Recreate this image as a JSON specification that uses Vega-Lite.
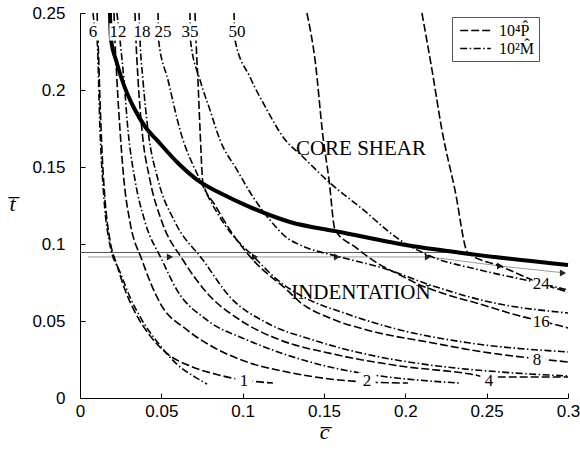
{
  "$schema": "https://vega.github.io/schema/vega-lite/v6.json",
  "width": 488,
  "height": 385,
  "autosize": {"type": "none"},
  "padding": {"left": 80, "top": 13, "right": 12, "bottom": 56},
  "background": "white",
  "config": {"view": {"stroke": null}},
  "datasets": {
    "paths": [
      {"id": "A", "c": 0.0, "t": 0.0945},
      {"id": "A", "c": 0.2348, "t": 0.0945},
      {"id": "B", "c": 0.0049, "t": 0.0916},
      {"id": "B", "c": 0.2152, "t": 0.0916},
      {"id": "B", "c": 0.2582, "t": 0.0857},
      {"id": "B", "c": 0.2982, "t": 0.0812}
    ],
    "arrows": [
      {"c": 0.0553, "t": 0.0916},
      {"c": 0.1076, "t": 0.0916},
      {"c": 0.1580, "t": 0.0916},
      {"c": 0.2139, "t": 0.0916},
      {"c": 0.2582, "t": 0.0857},
      {"c": 0.2969, "t": 0.0812}
    ],
    "curves": [
      {"id": "P1", "k": "P", "c": 0.0105, "t": 0.25},
      {"id": "P1", "k": "P", "c": 0.0111, "t": 0.2325},
      {"id": "P1", "k": "P", "c": 0.0123, "t": 0.1935},
      {"id": "P1", "k": "P", "c": 0.0135, "t": 0.1610},
      {"id": "P1", "k": "P", "c": 0.0154, "t": 0.1286},
      {"id": "P1", "k": "P", "c": 0.0184, "t": 0.1026},
      {"id": "P1", "k": "P", "c": 0.0227, "t": 0.0864},
      {"id": "P1", "k": "P", "c": 0.0277, "t": 0.0701},
      {"id": "P1", "k": "P", "c": 0.0338, "t": 0.0558},
      {"id": "P1", "k": "P", "c": 0.0418, "t": 0.0422},
      {"id": "P1", "k": "P", "c": 0.0523, "t": 0.0299},
      {"id": "P1", "k": "P", "c": 0.0676, "t": 0.0208},
      {"id": "P1", "k": "P", "c": 0.0830, "t": 0.0156},
      {"id": "P1", "k": "P", "c": 0.1002, "t": 0.0117},
      {"id": "P1", "k": "P", "c": 0.1186, "t": 0.0097},

      {"id": "M6", "k": "M", "c": 0.0080, "t": 0.25},
      {"id": "M6", "k": "M", "c": 0.0092, "t": 0.239},
      {"id": "M6", "k": "M", "c": 0.0105, "t": 0.2325},
      {"id": "M6", "k": "M", "c": 0.0123, "t": 0.1740},
      {"id": "M6", "k": "M", "c": 0.0148, "t": 0.1286},
      {"id": "M6", "k": "M", "c": 0.0184, "t": 0.0994},
      {"id": "M6", "k": "M", "c": 0.0246, "t": 0.0818},
      {"id": "M6", "k": "M", "c": 0.0307, "t": 0.0656},
      {"id": "M6", "k": "M", "c": 0.0381, "t": 0.0506},
      {"id": "M6", "k": "M", "c": 0.0480, "t": 0.0357},
      {"id": "M6", "k": "M", "c": 0.0602, "t": 0.0214},
      {"id": "M6", "k": "M", "c": 0.0707, "t": 0.0136},
      {"id": "M6", "k": "M", "c": 0.0781, "t": 0.0091},

      {"id": "P2", "k": "P", "c": 0.0209, "t": 0.25},
      {"id": "P2", "k": "P", "c": 0.0215, "t": 0.2325},
      {"id": "P2", "k": "P", "c": 0.0227, "t": 0.2065},
      {"id": "P2", "k": "P", "c": 0.0246, "t": 0.1740},
      {"id": "P2", "k": "P", "c": 0.0270, "t": 0.1416},
      {"id": "P2", "k": "P", "c": 0.0307, "t": 0.1143},
      {"id": "P2", "k": "P", "c": 0.0381, "t": 0.0896},
      {"id": "P2", "k": "P", "c": 0.0492, "t": 0.0617},
      {"id": "P2", "k": "P", "c": 0.0658, "t": 0.0442},
      {"id": "P2", "k": "P", "c": 0.0818, "t": 0.0331},
      {"id": "P2", "k": "P", "c": 0.1027, "t": 0.0234},
      {"id": "P2", "k": "P", "c": 0.1273, "t": 0.0169},
      {"id": "P2", "k": "P", "c": 0.1537, "t": 0.0123},
      {"id": "P2", "k": "P", "c": 0.1764, "t": 0.0104},
      {"id": "P2", "k": "P", "c": 0.2016, "t": 0.0097},

      {"id": "M12", "k": "M", "c": 0.0227, "t": 0.25},
      {"id": "M12", "k": "M", "c": 0.0246, "t": 0.2325},
      {"id": "M12", "k": "M", "c": 0.0270, "t": 0.2065},
      {"id": "M12", "k": "M", "c": 0.0295, "t": 0.1740},
      {"id": "M12", "k": "M", "c": 0.0338, "t": 0.1416},
      {"id": "M12", "k": "M", "c": 0.0400, "t": 0.1143},
      {"id": "M12", "k": "M", "c": 0.0504, "t": 0.0896},
      {"id": "M12", "k": "M", "c": 0.0596, "t": 0.0701},
      {"id": "M12", "k": "M", "c": 0.0781, "t": 0.0506},
      {"id": "M12", "k": "M", "c": 0.1027, "t": 0.0377},
      {"id": "M12", "k": "M", "c": 0.1273, "t": 0.0279},
      {"id": "M12", "k": "M", "c": 0.1537, "t": 0.0201},
      {"id": "M12", "k": "M", "c": 0.1844, "t": 0.0143},
      {"id": "M12", "k": "M", "c": 0.2152, "t": 0.0110},
      {"id": "M12", "k": "M", "c": 0.2336, "t": 0.0097},

      {"id": "P4", "k": "P", "c": 0.0338, "t": 0.25},
      {"id": "P4", "k": "P", "c": 0.0344, "t": 0.2325},
      {"id": "P4", "k": "P", "c": 0.0357, "t": 0.2065},
      {"id": "P4", "k": "P", "c": 0.0381, "t": 0.1740},
      {"id": "P4", "k": "P", "c": 0.0430, "t": 0.1416},
      {"id": "P4", "k": "P", "c": 0.0504, "t": 0.1143},
      {"id": "P4", "k": "P", "c": 0.0633, "t": 0.0896},
      {"id": "P4", "k": "P", "c": 0.0781, "t": 0.0682},
      {"id": "P4", "k": "P", "c": 0.0984, "t": 0.0506},
      {"id": "P4", "k": "P", "c": 0.1230, "t": 0.0377},
      {"id": "P4", "k": "P", "c": 0.1555, "t": 0.0286},
      {"id": "P4", "k": "P", "c": 0.1967, "t": 0.0208},
      {"id": "P4", "k": "P", "c": 0.2398, "t": 0.0156},
      {"id": "P4", "k": "P", "c": 0.2508, "t": 0.0136},
      {"id": "P4", "k": "P", "c": 0.3, "t": 0.0136},

      {"id": "M18", "k": "M", "c": 0.0363, "t": 0.25},
      {"id": "M18", "k": "M", "c": 0.0369, "t": 0.2325},
      {"id": "M18", "k": "M", "c": 0.0387, "t": 0.2065},
      {"id": "M18", "k": "M", "c": 0.0418, "t": 0.1740},
      {"id": "M18", "k": "M", "c": 0.0480, "t": 0.1416},
      {"id": "M18", "k": "M", "c": 0.0584, "t": 0.1143},
      {"id": "M18", "k": "M", "c": 0.0756, "t": 0.0896},
      {"id": "M18", "k": "M", "c": 0.0922, "t": 0.0656},
      {"id": "M18", "k": "M", "c": 0.1150, "t": 0.0487},
      {"id": "M18", "k": "M", "c": 0.1432, "t": 0.0377},
      {"id": "M18", "k": "M", "c": 0.1783, "t": 0.0279},
      {"id": "M18", "k": "M", "c": 0.2152, "t": 0.0214},
      {"id": "M18", "k": "M", "c": 0.2582, "t": 0.0169},
      {"id": "M18", "k": "M", "c": 0.3, "t": 0.0143},

      {"id": "M25", "k": "M", "c": 0.0480, "t": 0.25},
      {"id": "M25", "k": "M", "c": 0.0483, "t": 0.2325},
      {"id": "M25", "k": "M", "c": 0.0541, "t": 0.2065},
      {"id": "M25", "k": "M", "c": 0.0615, "t": 0.1740},
      {"id": "M25", "k": "M", "c": 0.0738, "t": 0.1416},
      {"id": "M25", "k": "M", "c": 0.0891, "t": 0.1123},
      {"id": "M25", "k": "M", "c": 0.1076, "t": 0.0909},
      {"id": "M25", "k": "M", "c": 0.1230, "t": 0.0753},
      {"id": "M25", "k": "M", "c": 0.1352, "t": 0.0669},
      {"id": "M25", "k": "M", "c": 0.1660, "t": 0.0539},
      {"id": "M25", "k": "M", "c": 0.1967, "t": 0.0442},
      {"id": "M25", "k": "M", "c": 0.2398, "t": 0.0357},
      {"id": "M25", "k": "M", "c": 0.3, "t": 0.0299},

      {"id": "P8", "k": "P", "c": 0.0707, "t": 0.25},
      {"id": "P8", "k": "P", "c": 0.0713, "t": 0.2325},
      {"id": "P8", "k": "P", "c": 0.0725, "t": 0.2065},
      {"id": "P8", "k": "P", "c": 0.0738, "t": 0.1740},
      {"id": "P8", "k": "P", "c": 0.0756, "t": 0.1396},
      {"id": "P8", "k": "P", "c": 0.0830, "t": 0.1253},
      {"id": "P8", "k": "P", "c": 0.0922, "t": 0.1091},
      {"id": "P8", "k": "P", "c": 0.1064, "t": 0.0896},
      {"id": "P8", "k": "P", "c": 0.1273, "t": 0.0701},
      {"id": "P8", "k": "P", "c": 0.1352, "t": 0.0623},
      {"id": "P8", "k": "P", "c": 0.1537, "t": 0.0519},
      {"id": "P8", "k": "P", "c": 0.1764, "t": 0.0442},
      {"id": "P8", "k": "P", "c": 0.2170, "t": 0.0357},
      {"id": "P8", "k": "P", "c": 0.2477, "t": 0.0299},
      {"id": "P8", "k": "P", "c": 0.2766, "t": 0.0260},
      {"id": "P8", "k": "P", "c": 0.3, "t": 0.0234},

      {"id": "M35", "k": "M", "c": 0.0676, "t": 0.25},
      {"id": "M35", "k": "M", "c": 0.0679, "t": 0.2325},
      {"id": "M35", "k": "M", "c": 0.0738, "t": 0.2065},
      {"id": "M35", "k": "M", "c": 0.0799, "t": 0.1870},
      {"id": "M35", "k": "M", "c": 0.0861, "t": 0.1675},
      {"id": "M35", "k": "M", "c": 0.0965, "t": 0.1481},
      {"id": "M35", "k": "M", "c": 0.1064, "t": 0.1305},
      {"id": "M35", "k": "M", "c": 0.1168, "t": 0.1156},
      {"id": "M35", "k": "M", "c": 0.1273, "t": 0.1039},
      {"id": "M35", "k": "M", "c": 0.1352, "t": 0.0994},
      {"id": "M35", "k": "M", "c": 0.1598, "t": 0.0916},
      {"id": "M35", "k": "M", "c": 0.1863, "t": 0.0844},
      {"id": "M35", "k": "M", "c": 0.2152, "t": 0.0734},
      {"id": "M35", "k": "M", "c": 0.2520, "t": 0.0623},
      {"id": "M35", "k": "M", "c": 0.3, "t": 0.0552},

      {"id": "M50", "k": "M", "c": 0.0947, "t": 0.25},
      {"id": "M50", "k": "M", "c": 0.0953, "t": 0.2325},
      {"id": "M50", "k": "M", "c": 0.1045, "t": 0.2084},
      {"id": "M50", "k": "M", "c": 0.1150, "t": 0.1870},
      {"id": "M50", "k": "M", "c": 0.1248, "t": 0.1695},
      {"id": "M50", "k": "M", "c": 0.1371, "t": 0.1565},
      {"id": "M50", "k": "M", "c": 0.1537, "t": 0.1396},
      {"id": "M50", "k": "M", "c": 0.1721, "t": 0.1240},
      {"id": "M50", "k": "M", "c": 0.1967, "t": 0.1026},
      {"id": "M50", "k": "M", "c": 0.2152, "t": 0.0922},
      {"id": "M50", "k": "M", "c": 0.2459, "t": 0.0831},
      {"id": "M50", "k": "M", "c": 0.2766, "t": 0.0760},
      {"id": "M50", "k": "M", "c": 0.3, "t": 0.0701},

      {"id": "P16", "k": "P", "c": 0.1395, "t": 0.25},
      {"id": "P16", "k": "P", "c": 0.1445, "t": 0.2195},
      {"id": "P16", "k": "P", "c": 0.1494, "t": 0.1695},
      {"id": "P16", "k": "P", "c": 0.1531, "t": 0.1416},
      {"id": "P16", "k": "P", "c": 0.1568, "t": 0.1091},
      {"id": "P16", "k": "P", "c": 0.1691, "t": 0.0981},
      {"id": "P16", "k": "P", "c": 0.1826, "t": 0.0877},
      {"id": "P16", "k": "P", "c": 0.1967, "t": 0.0799},
      {"id": "P16", "k": "P", "c": 0.2090, "t": 0.0734},
      {"id": "P16", "k": "P", "c": 0.2244, "t": 0.0675},
      {"id": "P16", "k": "P", "c": 0.2459, "t": 0.0610},
      {"id": "P16", "k": "P", "c": 0.2705, "t": 0.0532},
      {"id": "P16", "k": "P", "c": 0.2859, "t": 0.0494},
      {"id": "P16", "k": "P", "c": 0.3, "t": 0.0455},

      {"id": "P24", "k": "P", "c": 0.2102, "t": 0.25},
      {"id": "P24", "k": "P", "c": 0.2164, "t": 0.2130},
      {"id": "P24", "k": "P", "c": 0.2225, "t": 0.1740},
      {"id": "P24", "k": "P", "c": 0.2305, "t": 0.1351},
      {"id": "P24", "k": "P", "c": 0.2385, "t": 0.0942},
      {"id": "P24", "k": "P", "c": 0.2582, "t": 0.0857},
      {"id": "P24", "k": "P", "c": 0.2766, "t": 0.0773},
      {"id": "P24", "k": "P", "c": 0.2846, "t": 0.0740},
      {"id": "P24", "k": "P", "c": 0.3, "t": 0.0688}
    ],
    "boundary": [
      {"c": 0.0184, "t": 0.25},
      {"c": 0.0191, "t": 0.2325},
      {"c": 0.0221, "t": 0.2195},
      {"c": 0.0270, "t": 0.2032},
      {"c": 0.0332, "t": 0.1883},
      {"c": 0.0406, "t": 0.1753},
      {"c": 0.0473, "t": 0.1675},
      {"c": 0.0602, "t": 0.1526},
      {"c": 0.0738, "t": 0.1403},
      {"c": 0.0861, "t": 0.1331},
      {"c": 0.1045, "t": 0.1240},
      {"c": 0.1291, "t": 0.1143},
      {"c": 0.1598, "t": 0.1078},
      {"c": 0.1967, "t": 0.1000},
      {"c": 0.2398, "t": 0.0935},
      {"c": 0.3, "t": 0.0864}
    ],
    "labels": [
      {"lab": "6", "c": 0.0080, "t": 0.2377},
      {"lab": "12", "c": 0.0234, "t": 0.2377},
      {"lab": "18", "c": 0.0381, "t": 0.2377},
      {"lab": "25", "c": 0.0510, "t": 0.2377},
      {"lab": "35", "c": 0.0676, "t": 0.2377},
      {"lab": "50", "c": 0.0965, "t": 0.2377},
      {"lab": "1", "c": 0.1008, "t": 0.0110},
      {"lab": "2", "c": 0.1764, "t": 0.0110},
      {"lab": "4", "c": 0.2514, "t": 0.0110},
      {"lab": "8", "c": 0.2810, "t": 0.0247},
      {"lab": "16", "c": 0.2835, "t": 0.0494},
      {"lab": "24", "c": 0.2835, "t": 0.0740}
    ],
    "regions": [
      {"txt": "CORE SHEAR", "c": 0.1727, "t": 0.1617},
      {"txt": "INDENTATION", "c": 0.1727, "t": 0.0682}
    ]
  },
  "encoding": {
    "x": {
      "field": "c", "type": "quantitative",
      "scale": {"domain": [0, 0.3], "nice": false, "zero": false},
      "axis": {
        "values": [0, 0.05, 0.1, 0.15, 0.2, 0.25, 0.3],
        "format": "~g",
        "title": "c\u0305",
        "titleFont": "Liberation Serif", "titleFontStyle": "italic", "titleFontWeight": "normal",
        "titleFontSize": 22, "titleColor": "#000", "titlePadding": 2,
        "labelFont": "Liberation Sans", "labelFontSize": 17, "labelColor": "#000",
        "labelPadding": 10, "tickSize": -5, "tickColor": "#000", "domainColor": "#000",
        "grid": false, "labelFlush": false, "labelOverlap": false
      }
    },
    "y": {
      "field": "t", "type": "quantitative",
      "scale": {"domain": [0, 0.25], "nice": false, "zero": false},
      "axis": {
        "values": [0, 0.05, 0.1, 0.15, 0.2, 0.25],
        "format": "~g",
        "title": "t\u0305",
        "titleFont": "Liberation Serif", "titleFontStyle": "italic", "titleFontWeight": "normal",
        "titleFontSize": 22, "titleColor": "#000",
        "titleAngle": 0, "titleX": -68, "titleY": 190, "titleAlign": "center", "titleBaseline": "middle",
        "labelFont": "Liberation Sans", "labelFontSize": 17, "labelColor": "#000",
        "labelPadding": 20, "tickSize": -5, "tickColor": "#000", "domainColor": "#000",
        "grid": false, "labelFlush": false, "labelOverlap": false
      }
    }
  },
  "layer": [
    {
      "data": {"name": "paths"},
      "mark": {"type": "line", "strokeWidth": 1},
      "encoding": {
        "detail": {"field": "id"},
        "stroke": {"field": "id", "type": "nominal", "scale": {"domain": ["A", "B"], "range": ["#555555", "#9a9a9a"]}, "legend": null}
      }
    },
    {
      "data": {"name": "arrows"},
      "mark": {"type": "point", "shape": "triangle-right", "filled": true, "color": "#222222", "size": 50, "opacity": 1}
    },
    {
      "data": {"name": "curves"},
      "mark": {"type": "line", "strokeWidth": 1.6, "color": "#000", "interpolate": "monotone"},
      "encoding": {
        "detail": {"field": "id"},
        "strokeDash": {
          "field": "k", "type": "nominal",
          "scale": {"domain": ["P", "M"], "range": [[8, 3], [7, 2.5, 1.5, 2.5]]},
          "legend": {
            "orient": "none", "legendX": 372, "legendY": 4, "title": null,
            "labelExpr": "datum.label == 'P' ? '10\u2074P\u0302' : '10\u00b2M\u0302'",
            "symbolType": "M-1.8,0H1.8", "symbolStrokeColor": "#000", "symbolStrokeWidth": 1.6, "symbolSize": 289,
            "symbolOffset": 10,
            "labelFont": "Liberation Serif", "labelFontSize": 16, "labelColor": "#000", "labelOffset": 14,
            "strokeColor": "#555", "fillColor": "#fff", "padding": 4, "rowPadding": 0
          }
        }
      }
    },
    {
      "data": {"name": "boundary"},
      "mark": {"type": "line", "strokeWidth": 4, "color": "#000", "interpolate": "monotone"},
      "encoding": {}
    },
    {
      "data": {"name": "labels"},
      "mark": {"type": "point", "shape": "square", "filled": true, "color": "#fff", "size": 300, "opacity": 1}
    },
    {
      "data": {"name": "labels"},
      "mark": {"type": "text", "font": "Liberation Serif", "fontSize": 17, "color": "#000", "align": "center", "baseline": "middle"},
      "encoding": {"text": {"field": "lab"}}
    },
    {
      "data": {"name": "regions"},
      "mark": {"type": "text", "font": "Liberation Serif", "fontSize": 21, "color": "#000", "align": "center", "baseline": "middle"},
      "encoding": {"text": {"field": "txt"}}
    }
  ]
}
